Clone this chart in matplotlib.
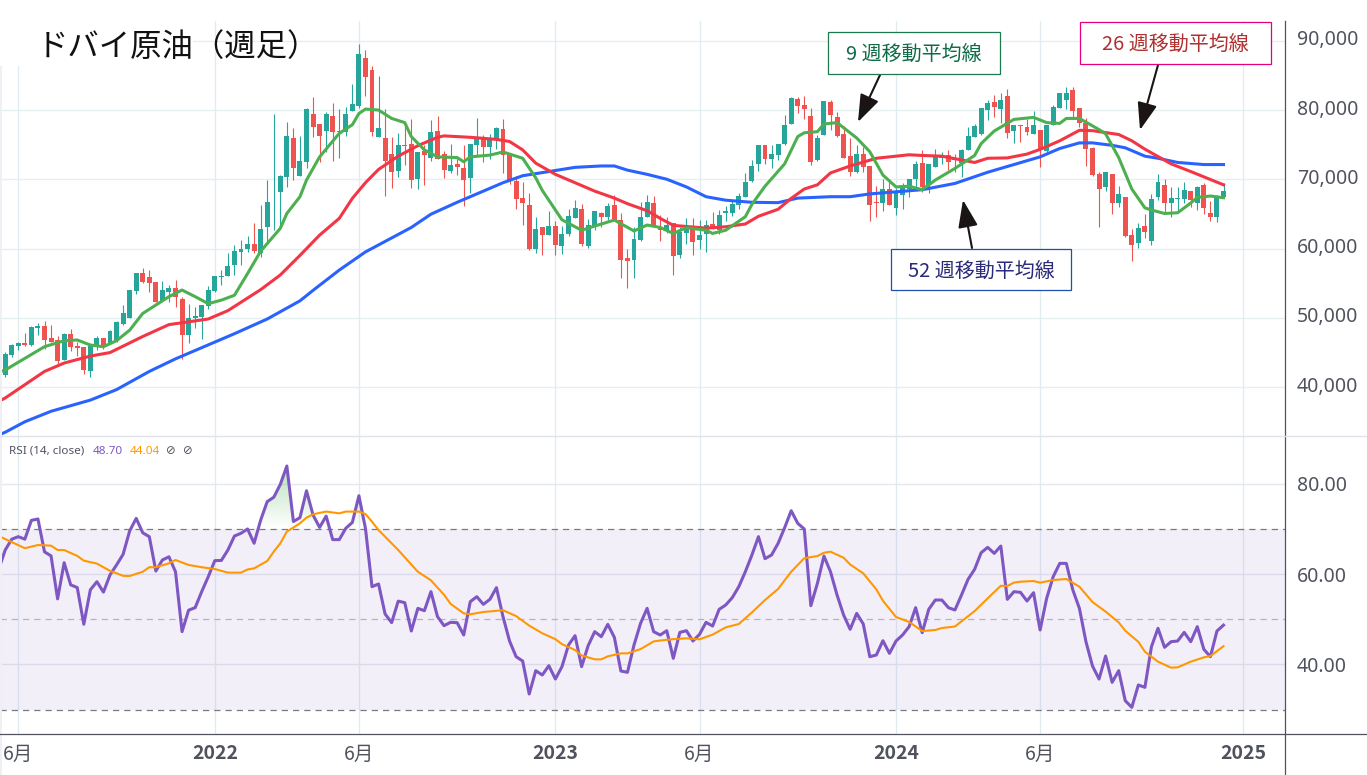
import numpy as np
import matplotlib
matplotlib.use("Agg")
import matplotlib.pyplot as plt
from matplotlib.colors import to_rgb
from matplotlib.patches import Rectangle
from matplotlib.path import Path
from matplotlib.transforms import ScaledTranslation

# -------- weekly candles, in thousands --------
opens = [41.79,44.65,45.9,46.3,46.08,48.55,48.8,47.1,46.75,43.9,47.65,45.9,45.8,42.4,45.8,47.1,46.3,46.8,49.08,50.0,
         53.8,56.4,55.8,55.1,52.4,53.7,54.2,52.65,47.5,50,50.1,51.65,53.8,55.85,56,57.5,59.4,59.8,60.6,59.3,
         63,67.2,68,70.15,75.7,70.3,72.3,79.2,77.7,76.7,78.8,76.5,76.6,79.6,80.3,87.2,85.4,75.9,75.7,73.4,
         71,74.7,74.9,69.9,73.9,72.9,76.7,73.4,71,72,71.35,70,74.7,75.8,74.45,75.5,77,73.25,69.6,67.05,
         66.1,59.8,63,61.8,63.1,60.25,61.95,64.2,65.5,60.25,63,65,64.35,66.1,63.95,58.5,58.25,61.1,64.45,66.35,
         63,62.5,63.6,58.95,62.05,62.7,61.1,62,63.4,62.5,65,65,66.15,67.3,69.6,71.97,74.7,72.7,73.3,74.85,
         77.7,81.3,80.4,78.85,72.55,76.1,80.85,78.7,76.25,73.1,70.85,73.4,71.7,66.5,66.45,68.35,65.7,67.5,68.35,69.8,
         72.07,68.97,71.6,72.9,73.2,72.63,72.07,73.97,75.88,76.26,79.7,80.84,79.9,81.7,76.74,77.55,77.22,76.26,76.84,73.88,
         77.55,79.94,81.13,82.56,79.94,77.79,74.26,70.54,68.63,70.54,66.44,67.2,61.82,60.62,63.1,61,67.3,68.97,66.34,66.92,
         67,68.1,66.44,68.97,64.91,64.44,67.2]
closes = [44.79,46.08,46.4,46.1,48.65,48.8,46.8,46.5,43.85,47.65,45.8,45.7,42.5,46,47.1,46,48.1,49.4,50.6,54.0,
          56.4,55.05,54.9,52.3,53.95,54.2,53,47.5,49.9,50.2,51.8,53.95,55.95,56,57.4,59.5,59.8,60.5,59.55,62.67,
          66.5,67.3,70.3,75.97,71.45,72.4,79.85,77.3,76,79.1,76.6,76.7,79.1,80.55,87.7,84.46,76.6,77.1,72.45,70.9,
          74.7,74.5,69.7,73.7,73.25,76.6,72.7,71.1,71.85,71.6,69.7,74.85,75.8,74.45,75.4,77.1,73.2,69.7,67,66.45,
          59.8,62.75,61.8,63.1,60.4,61.95,64.5,65.65,60.5,63.25,65.25,64.35,65.95,63.95,58.2,58.15,61.25,64.35,66.5,63.15,
          62.5,63.25,58.85,62.3,62.7,60.85,61.8,63.25,62.7,64.75,65.25,66.25,67.4,69.35,71.7,74.7,72.7,73.4,74.9,77.5,
          81.4,80.3,79.85,72.25,75.65,81,79,76,72.85,70.85,73.4,71.6,66.1,66.35,68.35,66.15,67.8,68.5,69.9,72.05,
          68.73,71.97,73.26,73,72.3,72.55,73.97,75.98,77.41,79.98,80.65,80.17,81.2,76.45,77.55,77.41,76.55,77.55,73.97,77.55,
          80.08,82.08,82.08,79.6,77.79,74.07,70.4,68.44,70.83,66.44,67.68,61.72,60.38,62.77,62.3,66.92,69.35,66.34,67.06,67.06,
          68.25,66.82,68.63,65.63,64.44,67.2,68.1]
highs = [45.1,46.2,46.55,47.75,48.8,49.3,49.5,48.9,47.35,47.85,48.35,46.55,45.8,46,47.4,47.1,48.3,49.5,51.8,54.0,
         56.4,57.1,56.8,55.1,55.25,54.65,55.4,53,51.95,51.5,51.8,54.5,55.95,56.8,59.2,60.4,61.1,61.7,63.5,66.1,
         69.7,79.2,70.4,77.95,77.1,76,79.95,81.6,77.7,79.4,80.65,79.9,80.1,83.4,89.1,88.3,86,84.55,79.8,75.8,
         76.35,77.7,78.4,73.7,74.7,78.25,78.8,73.9,74.9,72.8,74.7,74.85,78.5,76.1,76.3,77.3,78.4,73.25,70.3,69.35,
         67.8,64.35,63,65.25,63.85,63.1,65.5,66.8,66.25,64.05,65.25,65.15,66.35,67.5,64.9,59.8,63,66.5,67.6,67.4,
         64.7,64.45,63.6,63,64.2,64.2,63.95,63.95,65.15,65.4,65.9,66.9,67.8,70.65,72.55,74.7,74.7,74.7,74.9,79,
         81.5,81.6,81.7,80,76.1,81,81.1,79.4,77.4,75.65,74.7,74.45,71.7,68.8,69.8,69.9,68.5,69.2,69.9,72.45,
         74.05,71.97,74.07,73.75,74.05,73.4,74.07,77.3,77.7,79.98,81.2,81.84,82.08,82.65,77.55,77.55,78.36,79.6,76.84,77.55,
         80.41,82.08,82.94,82.94,79.94,78.5,74.35,70.88,70.83,70.54,68.83,67.2,62.63,63.48,64.82,67.68,70.54,69.78,68.63,68.63,
         69.44,68.1,68.83,69.2,66.68,67.54,69.3]
lows = [41.55,44.4,45.4,46,46,47.5,45.5,46.5,43.2,43.9,45.25,44.5,41.9,41.55,45.35,45.45,46.2,46.55,48.95,49.9,
        53.4,54.9,53.7,52.3,52.4,52.3,51.5,44.15,46.4,48.5,46.9,51.3,53.7,54.65,56,56.1,57.5,59.4,59.2,58.7,
        61,62.5,63,68.75,69.7,70.3,71.35,75.9,72.3,73.7,72.45,72.9,76,79.6,80,81.75,76,75.9,67.45,68.6,
        70.15,71.8,68.5,68.45,69,72.45,72.7,70,70.75,70.4,66,67.9,73.1,72.3,72.65,74.1,70.7,69.1,65.5,63.25,
        59.65,59.3,59,61.8,59,59.1,61.65,64.2,60.25,59.9,62.55,63,64,63.9,55.7,54.3,55.7,60.95,64.35,63.15,
        60.95,62.05,56.1,58.55,60.6,59,59.8,59.4,62.7,61.9,63.85,64.5,65.5,67.3,69.35,71,72.05,71.4,72.55,74.7,
        77.7,79.3,78.35,71.9,72.4,76.1,76.85,75.8,72.85,70.25,70.7,70.9,63.85,64.45,65.3,66.15,64.7,65.5,67.3,68.7,
        68,67.87,71.6,72.05,71.1,70.9,70.16,73.97,75.79,76.12,78.27,78.65,77.9,75.65,74.93,75.17,76.12,76.26,71.59,73.74,
        77.55,79.94,79.8,78.74,77.3,71.69,70.26,63,68.16,64.82,65.87,61.58,58.1,59.9,61.34,60.38,66.82,65.15,64.44,65.15,
        66.34,65.77,65.4,64.82,63.87,63.72,67.06]

# -------- moving averages, read every few weeks --------
ma9_weeks = [-1,0,3,6,9,11,13,15,17,19,21,23,25,27,29,31,33,35,37,39,42,43,45,46,48,51,53,54,55,57,59,61,62,64,66,69,70,71,74,76,79,81,82,85,88,90,93,96,98,100,102,104,107,108,110,113,114,116,119,121,122,124,125,127,130,132,134,136,138,140,142,145,148,149,151,154,157,159,161,162,164,167,168,170,172,174,175,177,179,181,182,184,186]
ma9_values = [42.2,42.5,44.17,45.84,46.7,46.8,46.08,45.84,46.7,48.2,50.6,51.8,53,53.95,53,52,52.5,53.2,56.3,59.5,62.77,64.9,67.3,69.68,73,76.36,77.6,79.2,79.84,79.7,78.5,77.9,75.9,74,73,72.9,72.3,73,73.25,73.7,72.8,70,68.2,64,62.5,63.1,63.96,62.4,63.25,62.9,62.05,62.87,62.5,62.05,62.5,64.44,66.2,68.8,72,75.9,76.45,76.6,77.7,77.9,75.7,73.74,70.4,68.7,68.8,68.3,69.68,71.35,73.2,74.9,76.7,78.36,78.65,77.9,77.79,78.5,78.5,76.9,76.3,72.9,68.4,65.7,65.4,64.9,65,66.4,67.2,67.4,67.15]
ma26_weeks = [-1,0,3,6,9,13,16,21,25,31,34,39,42,45,48,51,53,55,57,60,63,66,67,71,75,77,79,81,84,87,90,93,95,98,100,102,107,110,113,115,118,120,122,124,126,129,133,138,140,143,148,150,153,156,158,161,164,166,170,172,174,178,181,186]
ma26_values = [38.0,38.5,40.4,42.3,43.5,44.5,45,47.3,49,49.8,51,54,56.1,58.9,61.8,64.2,67.06,69.3,71.2,73.1,74.6,75.8,76,75.8,75.5,75.2,74,72.1,70.5,69.3,68.1,67.1,66.3,65.3,64.2,63.2,62.8,63,63.4,64.5,65.5,67.06,68.4,69,70.7,71.7,72.8,73.3,73.2,73.1,72.2,72.8,72.85,73.4,74.07,75.3,76.8,76.75,76.2,75.3,74.1,72,70.9,69]
ma52_weeks = [-1,0,3,7,13,17,22,26,30,35,40,45,47,51,55,58,62,65,69,72,76,79,83,87,91,93,95,98,101,104,107,110,114,118,121,126,129,132,140,145,150,154,158,161,164,166,169,171,174,176,179,183,186]
ma52_values = [33.2,33.6,35.1,36.6,38.2,39.7,42.3,44.1,45.7,47.7,49.8,52.4,53.9,56.8,59.4,60.9,62.9,64.8,66.5,67.7,69.3,70.3,70.9,71.5,71.7,71.7,71.1,70.5,69.8,68.7,67.3,66.8,66.5,66.45,67.1,67.3,67.3,67.7,68.3,69.2,70.8,71.9,73,74.2,75,75,74.65,74.3,73.1,72.8,72.2,71.9,71.9]

# -------- RSI, starts one week before the first candle --------
rsi = [61,65.3,67.7,68.25,67.7,71.86,72.16,64.9,64,54.5,62.5,57.6,57,48.9,56.5,58.3,56,59.8,62,64.35,69.5,
       72.3,69.1,68.25,60.66,63.1,63.8,60.5,47.26,52,52.56,56.1,59.4,62.95,63,65.3,68.4,69,69.95,66.8,71.9,
       76,76.96,79.8,83.87,71.6,72.45,78.4,73.04,70.3,72.8,67.6,67.6,70.1,71.4,77.3,70.1,57.2,57.8,51.16,49.25,
       54,53.67,47.4,52.4,51.9,56.1,50.57,48.58,49.32,49.24,46.52,53.88,54.99,53.29,54.4,56.98,50.57,45.19,41.73,40.77,
       33.48,38.63,37.68,39.74,36.79,39.52,44.3,46.37,39.52,44.16,47.25,46.15,48.87,46,38.56,38.27,44.3,49.09,52.41,47.25,
       46.52,47.47,41.36,47.1,47.47,45.19,46.66,49.32,48.5,52.19,53.15,54.77,57.2,60.51,64.2,68.25,63.39,64.2,66.77,70.24,
       73.99,71.2,69.94,53,57.93,63.97,60.51,55.36,50.94,47.77,51.3,48.95,41.73,42.1,45.26,42.46,45.19,46.52,48.36,52.56,
       47.03,52.19,54.25,54.25,52.56,52.04,55.36,58.82,61.03,64.71,65.89,64.56,66.18,54.4,56.09,55.95,54.03,55.87,47.62,54.62,
       59.41,62.35,62.35,56.46,52.41,45.04,39.66,36.79,41.87,36.06,38.63,32,30.53,35.47,34.95,43.94,48,43.79,45.04,45.19,
       47.1,45.04,48.36,43.35,41.73,47.4,48.7]
rsi_ma_weeks = [-1,3,5,7,8,9,11,12,14,16,18,19,21,22,23,25,26,28,30,32,34,36,37,38,40,41,42,43,45,46,47,49,51,52,54,55,56,57,58,60,63,65,67,68,70,71,73,76,78,80,82,84,85,87,88,90,91,92,94,95,97,99,100,102,104,106,108,110,112,114,116,118,120,122,124,125,126,128,129,131,133,134,136,138,140,142,143,145,148,150,152,153,154,155,157,158,160,162,164,166,168,170,171,173,174,176,178,179,181,183,184,186]
rsi_ma_values = [68.4,65.7,66.4,66.27,65.3,65.3,64,62.95,62.3,60.7,59.6,59.56,60.5,61.5,61.5,62.36,63.1,62,61.5,61.1,60.3,60.3,61,61.25,62.87,64.94,66.78,69.36,71.2,72.45,73.2,73.8,73.4,73.8,73.8,73.26,71.57,69.7,68.25,65.3,60.5,58.6,55.4,53.4,51.3,51.1,51.6,52,50.7,48.6,46.9,45.6,44.5,43.2,42,41.14,41.14,41.8,42.46,42.46,43.4,45.1,45.3,45.6,45.78,45.56,46.6,48.2,48.95,51.5,54.25,56.7,60.5,63.5,63.97,64.7,64.93,63.6,62.1,60.14,56.6,54.1,50.5,49.4,47.4,47.62,48.06,48.4,51.8,54.62,57.4,57.35,58.1,58.3,58.45,58.08,58.67,58.89,57.2,53.8,51.7,49.3,47.47,45,42.83,40.62,39.3,39.37,40.62,41.58,41.87,44.04]

# -------- axis ticks and labels --------
time_ticks = [2, 32, 54, 84, 106, 136, 158, 189]
time_labels = ['6月', '2022', '6月', '2023', '6月', '2024', '6月', '2025']
price_ticks = [40, 50, 60, 70, 80, 90]
price_labels = ['40,000', '50,000', '60,000', '70,000', '80,000', '90,000']
rsi_ticks = [40, 60, 80]
rsi_labels = ['40.00', '60.00', '80.00']

JP = ['Noto Sans CJK JP', 'DejaVu Sans']
GREY = '#50535e'
UP, DOWN = '#26a69a', '#ef5350'
W, H = 1367, 775


def scale_price(v):
    # readings were taken against the label centres, the grid sits a bit lower
    return 90.4 - 1.00866 * (90 - np.asarray(v, dtype=float))


fig = plt.figure(figsize=(W / 100, H / 100), dpi=100, facecolor='white')
ax = fig.add_axes([0, 1 - 436 / H, 1285 / W, (436 - 21) / H])
ax2 = fig.add_axes([0, 1 - 734 / H, 1285 / W, (734 - 436) / H])

# -------- candles --------
o, c = scale_price(opens), scale_price(closes)
hi, lo = scale_price(highs), scale_price(lows)
weeks = np.arange(len(o))
colors = [UP if b >= a else DOWN for a, b in zip(opens, closes)]
ax.vlines(weeks, lo, hi, colors=colors, linewidth=0.8, zorder=3)
ax.bar(weeks, np.abs(c - o), bottom=np.minimum(o, c), width=0.76, color=colors, linewidth=0, zorder=4)

ax.plot(ma52_weeks, scale_price(ma52_values), color='#2962ff', lw=2.2, zorder=5, solid_joinstyle='round')
ax.plot(ma26_weeks, scale_price(ma26_values), color='#f23645', lw=2.2, zorder=6, solid_joinstyle='round')
ax.plot(ma9_weeks, scale_price(ma9_values), color='#4caf50', lw=2.2, zorder=7, solid_joinstyle='round')

# -------- RSI --------
rsi = np.array(rsi)
rsi_weeks = np.arange(-1, len(rsi) - 1)
ax2.axhspan(30, 70, color='#7e57c2', alpha=0.09, lw=0, zorder=1)
ax2.axhline(70, color='#787b86', lw=0.9, dashes=(5, 4), zorder=2)
ax2.axhline(50, color='#b2b5be', lw=0.9, dashes=(5, 4), zorder=2)
ax2.axhline(30, color='#787b86', lw=0.9, dashes=(5, 4), zorder=2)

xlim = (-5.2 / 6.55, (1285 - 5.2) / 6.55)
ylim2 = (24.64, 90.5)

# green fade above the overbought line
above = ax2.fill_between(rsi_weeks, 70, rsi, where=rsi > 70, interpolate=True, facecolor='none', edgecolor='none')
fade = np.zeros((64, 1, 4))
fade[..., :3] = to_rgb('#4caf50')
fade[..., 3] = np.linspace(0.4, 0, 64)[:, None]
im = ax2.imshow(fade, extent=[xlim[0], xlim[1], 70, 84], aspect='auto', zorder=2)
im.set_clip_path(Path.make_compound_path(*above.get_paths()), transform=ax2.transData)

ax2.plot(rsi_weeks, rsi, color='#7e57c2', lw=2.2, zorder=5, solid_joinstyle='round')
ax2.plot(rsi_ma_weeks, rsi_ma_values, color='#ff9800', lw=1.5, zorder=6, solid_joinstyle='round')

# -------- axes --------
for a in (ax, ax2):
    a.set_xlim(*xlim)
    a.set_xticks(time_ticks)
    a.grid(True, axis='x', color='#e1ecf0', lw=1.0)
    a.grid(True, axis='y', color='#e4eff2', lw=1.0)
    a.set_axisbelow(True)
    for s in a.spines.values():
        s.set_visible(False)
    a.yaxis.tick_right()
    a.tick_params(length=0)

ax.set_ylim(32.97, 92.86)
ax.set_yticks(price_ticks)
ax.set_yticklabels(price_labels, fontsize=14, color=GREY, family='Noto Sans')
ax.tick_params(axis='y', pad=8.5)
ax.tick_params(axis='x', labelbottom=False)
# price labels sit above their grid lines
lift = ScaledTranslation(0, 3 / 100, fig.dpi_scale_trans)
for lab in ax.get_yticklabels():
    lab.set_transform(lab.get_transform() + lift)

ax2.set_ylim(*ylim2)
ax2.set_yticks(rsi_ticks)
ax2.set_yticklabels(rsi_labels, fontsize=14, color=GREY, family='Noto Sans')
ax2.tick_params(axis='y', pad=8.5)
ax2.grid(True, axis='y', color='#e6e8ef', lw=1.0)
ax2.set_xticklabels(time_labels, fontsize=14, color=GREY, family=JP)
ax2.tick_params(axis='x', pad=7)
for lab in ax2.get_xticklabels():
    if lab.get_text().isdigit():
        lab.set_fontweight('bold')

# -------- overlay in pixel coordinates: frame, title, notes --------
over = fig.add_axes([0, 0, 1, 1], facecolor='none')
over.set_xlim(0, W)
over.set_ylim(H, 0)
over.axis('off')

over.add_patch(Rectangle((0, 0), 193, 66, fc='white', ec='none', zorder=1))
over.add_patch(Rectangle((0, 66), 2, 709, fc='#eef0f5', ec='none', zorder=1))
over.plot([1285, 1285], [21, H], color=GREY, lw=0.9, zorder=2)
over.plot([0, W], [734, 734], color=GREY, lw=0.9, zorder=2)
over.plot([0, W], [436, 436], color='#e0e3eb', lw=1.0, zorder=2)

over.text(37, 46.5, 'ドバイ原油（週足）', fontsize=22.6, color='#111111', family=JP, va='center', zorder=3)

over.text(9, 451, 'RSI (14, close)', fontsize=8.4, color=GREY, family='Noto Sans', va='center', zorder=3)
over.text(93, 451, '48.70', fontsize=8.4, color='#7e57c2', family='Noto Sans', va='center', zorder=3)
over.text(130, 451, '44.04', fontsize=8.4, color='#ff9800', family='Noto Sans', va='center', zorder=3)
over.text(171, 451, '⊘', fontsize=8.4, color=GREY, family='DejaVu Sans', va='center', ha='center', zorder=3)
over.text(188, 451, '⊘', fontsize=8.4, color=GREY, family='DejaVu Sans', va='center', ha='center', zorder=3)

boxes = [
    (828, 32, 172, 42, '#1b7a4f', '#0f6b47', '9 週移動平均線'),
    (1080, 22, 191, 42, '#e6007e', '#b03030', '26 週移動平均線'),
    (891, 249, 180, 41, '#1f4fa8', '#2a2a7a', '52 週移動平均線'),
]
for x, y, w, h, edge, txt, label in boxes:
    over.add_patch(Rectangle((x, y), w, h, fc='white', ec=edge, lw=0.9, zorder=8))
    over.text(x + w / 2, y + h / 2 + 1.5, label, fontsize=14.4, color=txt, family=JP, ha='center', va='center', zorder=9)

arrows = [((880, 75), (858, 122)), ((1158, 65), (1140, 130)), ((972, 248), (963, 200))]
for start, tip in arrows:
    over.annotate('', xy=tip, xytext=start, zorder=7,
                  arrowprops=dict(arrowstyle='-|>,head_length=1.05,head_width=0.38', mutation_scale=16,
                                  color='#1a1414', lw=1.5, shrinkA=0, shrinkB=0))

fig.savefig('out.png', dpi=100)
